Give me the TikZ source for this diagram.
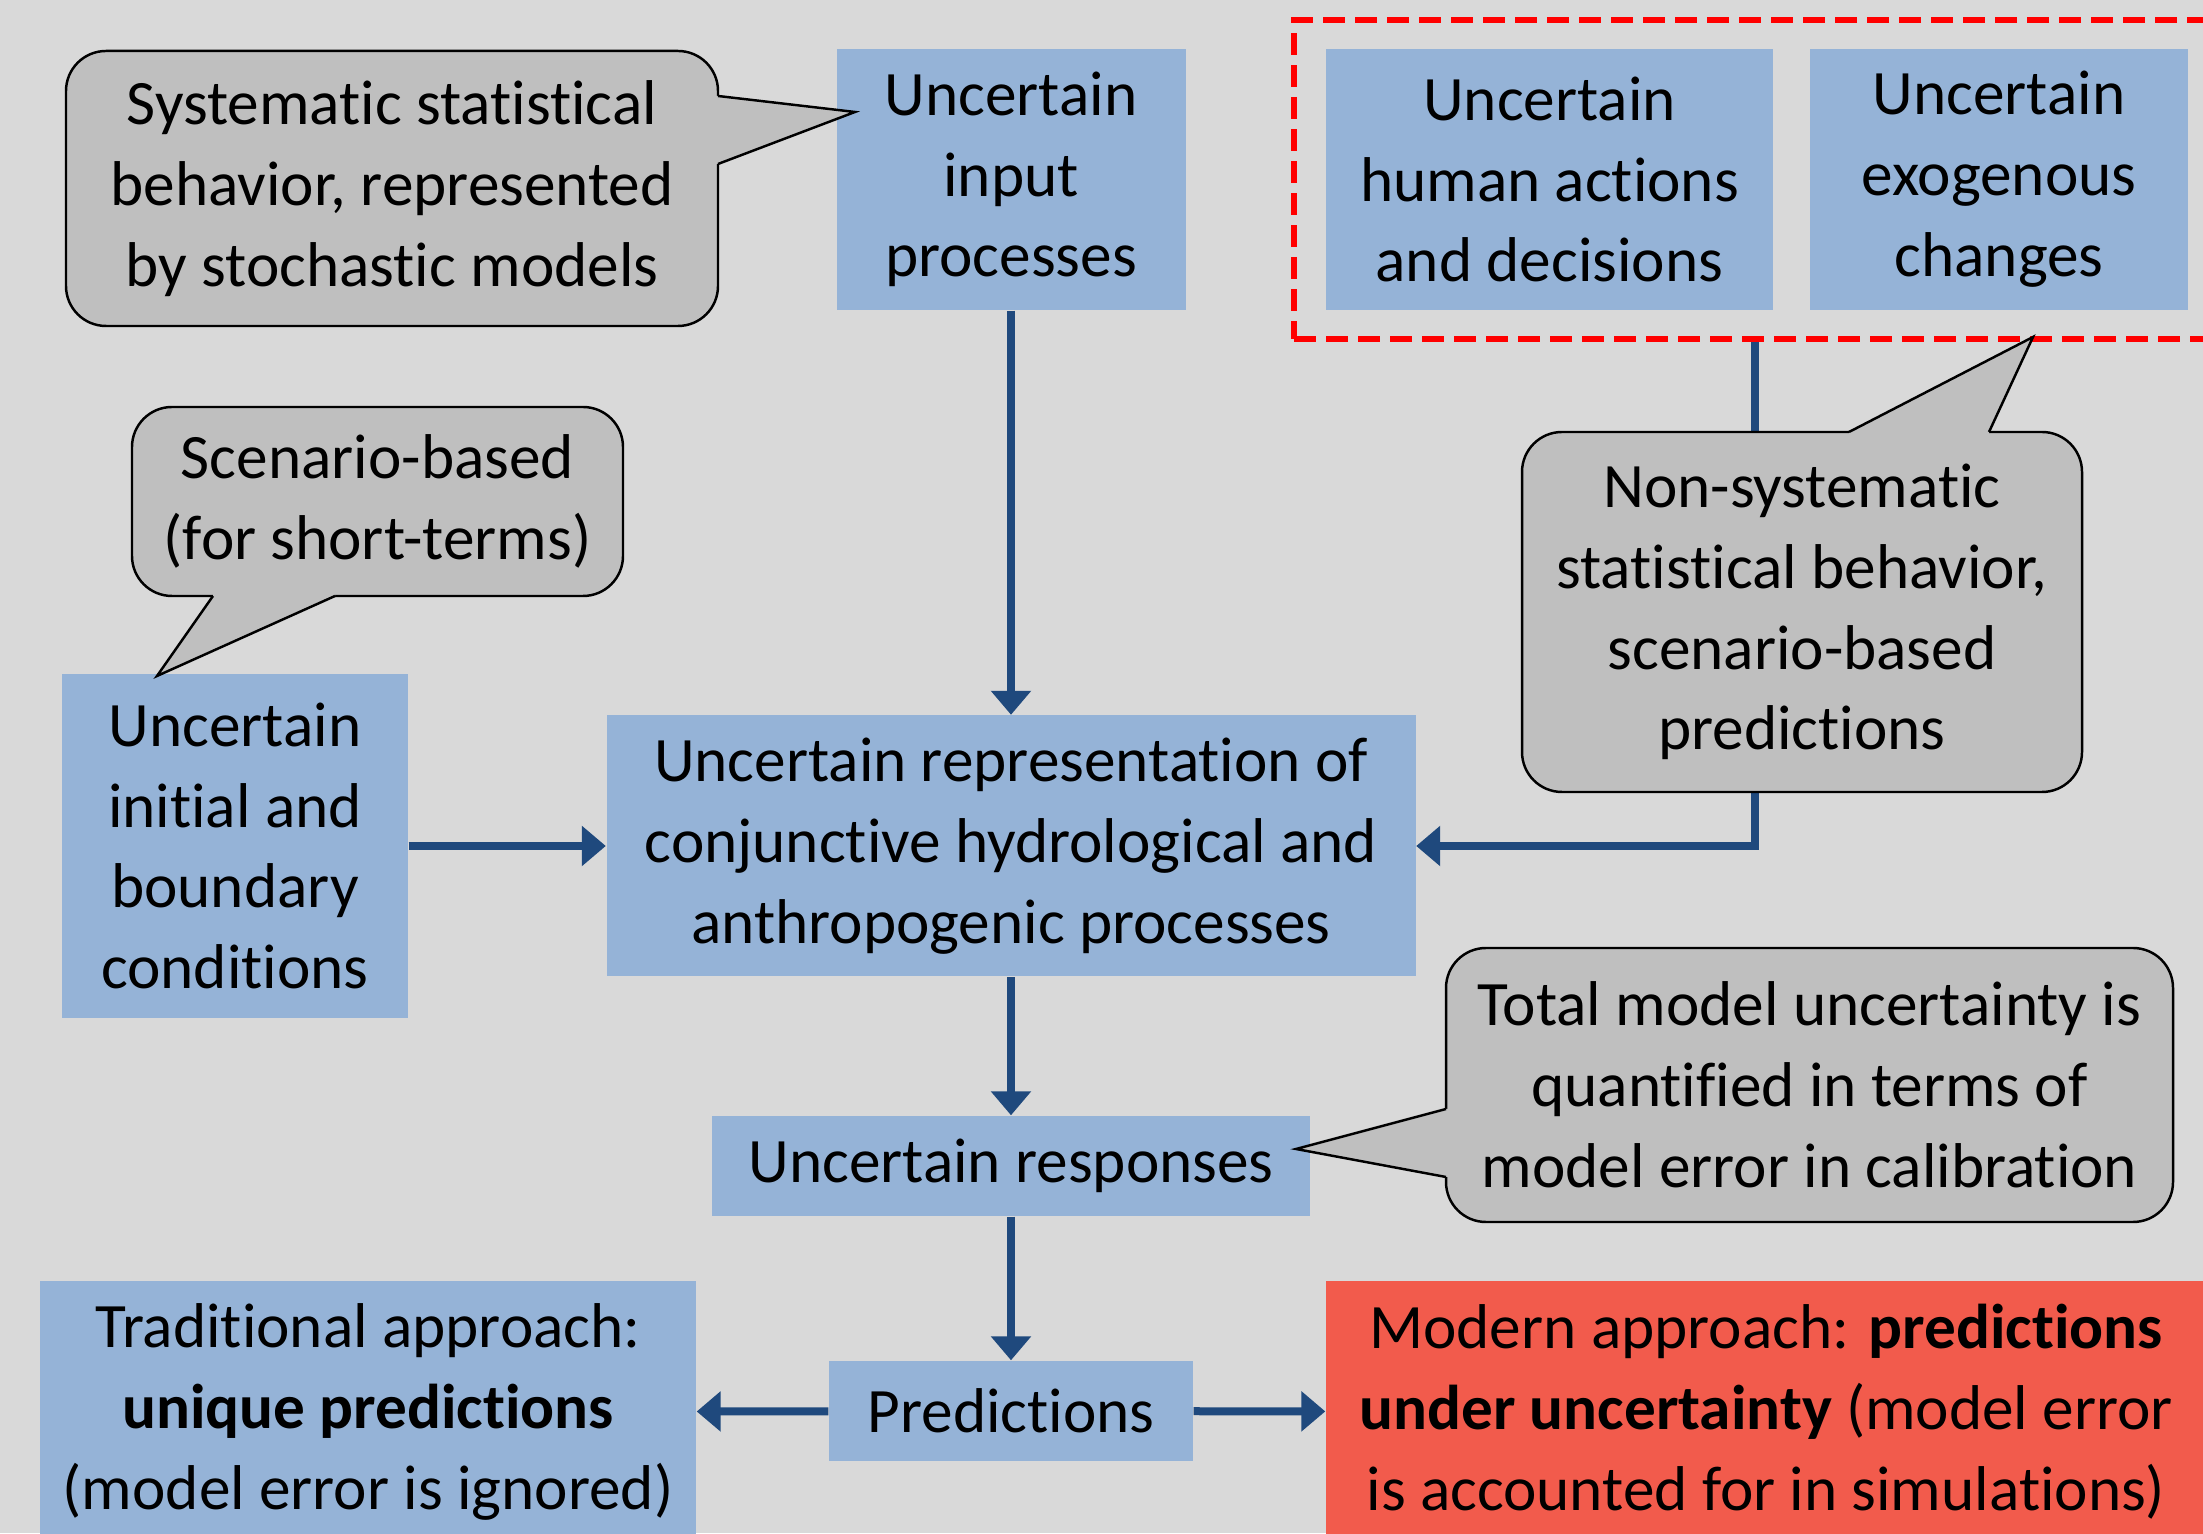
\documentclass[tikz,border=0pt]{standalone}
\usepackage{fontspec}
\setmainfont{Carlito}[Ligatures=NoCommon]
\usetikzlibrary{arrows.meta}

\definecolor{bgGray}{HTML}{D9D9D9}
\definecolor{boxBlue}{HTML}{95B3D7}
\definecolor{noteGray}{HTML}{BFBFBF}
\definecolor{arrowBlue}{HTML}{1F497D}
\definecolor{modernRed}{HTML}{F25B4C}

\tikzset{
  blockbox/.style={fill=boxBlue, align=center, inner sep=0pt},
  notebox/.style={fill=noteGray, draw=black, line width=0.7pt, rounded corners=0.4cm, align=center, inner sep=0pt},
  noteline/.style={draw=black, line width=0.7pt, line join=miter},
  flowarrow/.style={arrowBlue, line width=0.08cm, -{Triangle[width=0.39cm,length=0.24cm]}},
}

\begin{document}
\begin{tikzpicture}[font=\fontsize{18}{23}\selectfont]
            \clip (0,0) rectangle (22.03,15.33);
            \fill[bgGray] (0,0) rectangle (22.03,15.33);

            % blue boxes
            \node[blockbox, minimum width=3.49cm, minimum height=2.61cm] (input) at (10.11,13.535) {Uncertain\\input\\processes};
            \node[blockbox, minimum width=4.47cm, minimum height=2.61cm] (human) at (15.495,13.535) {Uncertain\\human actions\\and decisions};
            \node[blockbox, minimum width=3.78cm, minimum height=2.61cm] (exogenous) at (19.99,13.535) {Uncertain\\exogenous\\changes};
            \node[draw=red, line width=0.06cm, dash pattern=on 0.22cm off 0.1cm, minimum width=9.22cm, minimum height=3.19cm, inner sep=0pt] (group) at (17.55,13.535) {};

            \node[blockbox, minimum width=3.46cm, minimum height=3.44cm] (initial) at (2.35,6.87) {Uncertain\\initial and\\boundary\\conditions};
            \node[blockbox, minimum width=8.09cm, minimum height=2.61cm] (repr) at (10.11,6.87) {Uncertain representation of\\conjunctive hydrological and\\anthropogenic processes};
            \node[blockbox, minimum width=5.98cm, minimum height=1.0cm] (responses) at (10.11,3.67) {Uncertain responses};
            \node[blockbox, minimum width=3.64cm, minimum height=1.0cm] (predictions) at (10.11,1.22) {Predictions};
            \node[blockbox, minimum width=6.56cm, minimum height=2.62cm] (traditional) at (3.68,1.21) {Traditional approach:\\\textbf{unique predictions}\\(model error is ignored)};
            \node[blockbox, fill=modernRed, minimum width=8.8cm, minimum height=2.62cm] (modern) at (17.66,1.21) {Modern approach: \textbf{predictions}\\\textbf{under uncertainty} (model error\\is accounted for in simulations)};

            % arrows
            \draw[flowarrow] (input.south) -- (repr.north);
            \draw[flowarrow] (initial) -- (repr);
            \draw[flowarrow] (group.south) |- (repr.east);
            \draw[flowarrow] (repr.south) -- (responses.north);
            \draw[flowarrow] (responses.south) -- (predictions.north);
            \draw[flowarrow] (predictions) -- (traditional);
            \draw[flowarrow] (predictions) -- (modern);

            % callouts
            \node[notebox, minimum width=6.52cm, minimum height=2.75cm] (sysnote) at (3.92,13.445) {Systematic statistical\\behavior, represented\\by stochastic models};
            \coordinate (systip) at (8.55,14.21);
            \fill[noteGray] (7.18,14.37) -- (systip) -- (7.18,13.69) -- (7.12,13.69) -- (7.12,14.37) -- cycle;
            \draw[noteline] (7.18,14.37) -- (systip) -- (7.18,13.69);

            \node[notebox, minimum width=4.91cm, minimum height=1.89cm] (scennote) at (3.775,10.315) {Scenario-based\\(for short-terms)};
            \coordinate (scentip) at (1.57,8.57);
            \fill[noteGray] (2.13,9.37) -- (scentip) -- (3.35,9.37) -- (3.35,9.43) -- (2.13,9.43) -- cycle;
            \draw[noteline] (2.13,9.37) -- (scentip) -- (3.35,9.37);

            \node[notebox, minimum width=5.6cm, minimum height=3.6cm] (nonsysnote) at (18.02,9.21) {Non-systematic\\statistical behavior,\\scenario-based\\predictions};
            \coordinate (nonsystip) at (20.33,11.96);
            \fill[noteGray] (18.49,11.01) -- (nonsystip) -- (19.89,11.01) -- (19.89,10.95) -- (18.49,10.95) -- cycle;
            \draw[noteline] (18.49,11.01) -- (nonsystip) -- (19.89,11.01);

            \node[notebox, minimum width=7.27cm, minimum height=2.74cm] (totalnote) at (18.095,4.48) {Total model uncertainty is\\quantified in terms of\\model error in calibration};
            \coordinate (totaltip) at (12.96,3.84);
            \fill[noteGray] (14.46,4.24) -- (totaltip) -- (14.46,3.56) -- (14.52,3.56) -- (14.52,4.24) -- cycle;
            \draw[noteline] (14.46,4.24) -- (totaltip) -- (14.46,3.56);
\end{tikzpicture}
\end{document}
